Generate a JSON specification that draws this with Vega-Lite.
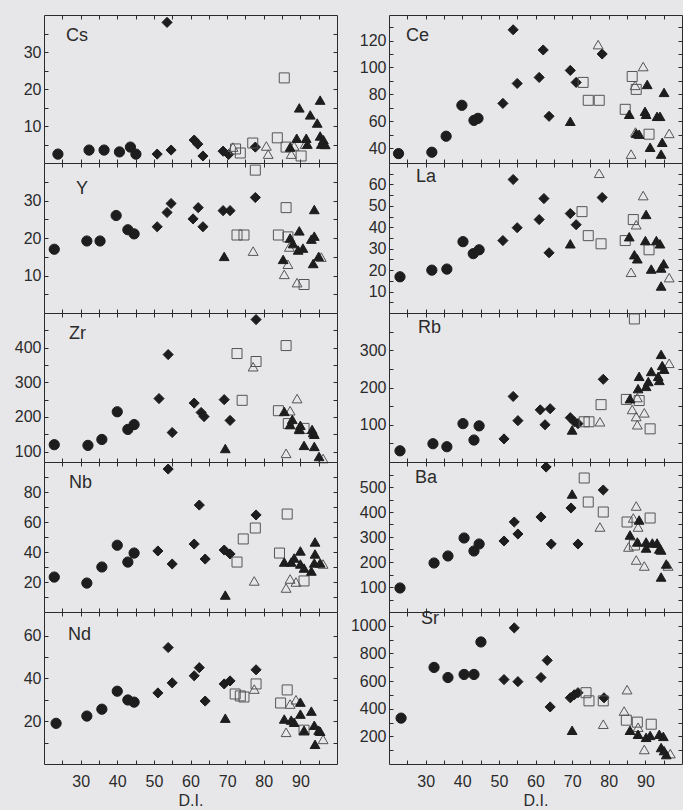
{
"$schema":"https://vega.github.io/schema/vega-lite/v6.json",
"background":"#e7e7ea",
"padding":{"left":13,"top":14,"right":0,"bottom":2},
"datasets":{"d":[
{"el":"Cs","di":23.8,"v":2.4,"g":"c"},{"el":"Cs","di":32.3,"v":3.5,"g":"c"},{"el":"Cs","di":36.4,"v":3.5,"g":"c"},{"el":"Cs","di":40.6,"v":3.0,"g":"c"},{"el":"Cs","di":43.6,"v":4.3,"g":"c"},{"el":"Cs","di":45.1,"v":2.4,"g":"c"},
{"el":"Cs","di":50.9,"v":2.4,"g":"d"},{"el":"Cs","di":53.6,"v":38,"g":"d"},{"el":"Cs","di":54.7,"v":3.5,"g":"d"},{"el":"Cs","di":61,"v":6.2,"g":"d"},{"el":"Cs","di":62,"v":5.1,"g":"d"},{"el":"Cs","di":63.4,"v":1.9,"g":"d"},{"el":"Cs","di":68.9,"v":3.2,"g":"d"},{"el":"Cs","di":70.4,"v":2.3,"g":"d"},{"el":"Cs","di":77.7,"v":4.3,"g":"d"},
{"el":"Cs","di":72.3,"v":3.8,"g":"s"},{"el":"Cs","di":73.6,"v":2.7,"g":"s"},{"el":"Cs","di":77,"v":5.4,"g":"s"},{"el":"Cs","di":83.7,"v":6.8,"g":"s"},{"el":"Cs","di":85.6,"v":23,"g":"s"},{"el":"Cs","di":86.1,"v":4.3,"g":"s"},{"el":"Cs","di":90.2,"v":1.9,"g":"s"},
{"el":"Cs","di":71.6,"v":4.3,"g":"o"},{"el":"Cs","di":80.7,"v":4.6,"g":"o"},{"el":"Cs","di":81.2,"v":2.4,"g":"o"},{"el":"Cs","di":87.5,"v":2.4,"g":"o"},{"el":"Cs","di":88.3,"v":4.6,"g":"o"},{"el":"Cs","di":91.3,"v":5.1,"g":"o"},
{"el":"Cs","di":87.2,"v":4.3,"g":"f"},{"el":"Cs","di":89,"v":6.7,"g":"f"},{"el":"Cs","di":89.7,"v":14.9,"g":"f"},{"el":"Cs","di":91.6,"v":6.7,"g":"f"},{"el":"Cs","di":91.9,"v":5.1,"g":"f"},{"el":"Cs","di":92.7,"v":13,"g":"f"},{"el":"Cs","di":94.6,"v":10.8,"g":"f"},{"el":"Cs","di":95.4,"v":17,"g":"f"},{"el":"Cs","di":95.4,"v":7.3,"g":"f"},{"el":"Cs","di":95.7,"v":5.1,"g":"f"},{"el":"Cs","di":96.3,"v":6.3,"g":"f"},{"el":"Cs","di":96.8,"v":5,"g":"f"},

{"el":"Y","di":22.8,"v":17,"g":"c"},{"el":"Y","di":31.7,"v":19.2,"g":"c"},{"el":"Y","di":35.3,"v":19.2,"g":"c"},{"el":"Y","di":39.7,"v":26,"g":"c"},{"el":"Y","di":42.9,"v":22.2,"g":"c"},{"el":"Y","di":44.6,"v":21.1,"g":"c"},
{"el":"Y","di":50.9,"v":23,"g":"d"},{"el":"Y","di":53.6,"v":26.8,"g":"d"},{"el":"Y","di":54.7,"v":29.2,"g":"d"},{"el":"Y","di":60.7,"v":25.1,"g":"d"},{"el":"Y","di":62.1,"v":28.1,"g":"d"},{"el":"Y","di":63.4,"v":23,"g":"d"},{"el":"Y","di":68.9,"v":27.3,"g":"d"},{"el":"Y","di":70.8,"v":27.3,"g":"d"},{"el":"Y","di":77.7,"v":30.8,"g":"d"},
{"el":"Y","di":72.7,"v":20.8,"g":"s"},{"el":"Y","di":74.6,"v":20.8,"g":"s"},{"el":"Y","di":77.7,"v":38.1,"g":"s"},{"el":"Y","di":84,"v":20.8,"g":"s"},{"el":"Y","di":86.1,"v":28.1,"g":"s"},{"el":"Y","di":86.6,"v":20.3,"g":"s"},{"el":"Y","di":91,"v":7.6,"g":"s"},
{"el":"Y","di":77.1,"v":16.5,"g":"o"},{"el":"Y","di":85.6,"v":10.3,"g":"o"},{"el":"Y","di":86.6,"v":13,"g":"o"},{"el":"Y","di":87,"v":17.6,"g":"o"},{"el":"Y","di":89.1,"v":8.1,"g":"o"},{"el":"Y","di":95.7,"v":14.9,"g":"o"},
{"el":"Y","di":69.2,"v":15.1,"g":"f"},{"el":"Y","di":85.3,"v":14.3,"g":"f"},{"el":"Y","di":87.2,"v":20,"g":"f"},{"el":"Y","di":88,"v":18.5,"g":"f"},{"el":"Y","di":89.4,"v":16.8,"g":"f"},{"el":"Y","di":89.7,"v":21.9,"g":"f"},{"el":"Y","di":90.7,"v":17.3,"g":"f"},{"el":"Y","di":93,"v":19.7,"g":"f"},{"el":"Y","di":93.5,"v":13.2,"g":"f"},{"el":"Y","di":93.8,"v":20.5,"g":"f"},{"el":"Y","di":93.8,"v":27.6,"g":"f"},{"el":"Y","di":95,"v":15.1,"g":"f"},

{"el":"Zr","di":22.8,"v":120,"g":"c"},{"el":"Zr","di":32,"v":118,"g":"c"},{"el":"Zr","di":35.8,"v":135,"g":"c"},{"el":"Zr","di":40,"v":215,"g":"c"},{"el":"Zr","di":42.9,"v":164,"g":"c"},{"el":"Zr","di":44.6,"v":178,"g":"c"},
{"el":"Zr","di":51.4,"v":253,"g":"d"},{"el":"Zr","di":53.9,"v":380,"g":"d"},{"el":"Zr","di":55,"v":155,"g":"d"},{"el":"Zr","di":61,"v":240,"g":"d"},{"el":"Zr","di":62.9,"v":213,"g":"d"},{"el":"Zr","di":63.7,"v":201,"g":"d"},{"el":"Zr","di":69.2,"v":250,"g":"d"},{"el":"Zr","di":70.8,"v":190,"g":"d"},{"el":"Zr","di":77.9,"v":481,"g":"d"},
{"el":"Zr","di":72.7,"v":383,"g":"s"},{"el":"Zr","di":74.1,"v":248,"g":"s"},{"el":"Zr","di":77.9,"v":360,"g":"s"},{"el":"Zr","di":84,"v":218,"g":"s"},{"el":"Zr","di":86.1,"v":406,"g":"s"},{"el":"Zr","di":86.7,"v":181,"g":"s"},{"el":"Zr","di":91,"v":167,"g":"s"},
{"el":"Zr","di":77.1,"v":345,"g":"o"},{"el":"Zr","di":86.1,"v":95,"g":"o"},{"el":"Zr","di":87.2,"v":218,"g":"o"},{"el":"Zr","di":89.1,"v":253,"g":"o"},{"el":"Zr","di":89.7,"v":167,"g":"o"},{"el":"Zr","di":96.2,"v":80,"g":"o"},
{"el":"Zr","di":69.5,"v":109,"g":"f"},{"el":"Zr","di":85.6,"v":216,"g":"f"},{"el":"Zr","di":87.2,"v":178,"g":"f"},{"el":"Zr","di":87.8,"v":193,"g":"f"},{"el":"Zr","di":89.7,"v":164,"g":"f"},{"el":"Zr","di":90,"v":176,"g":"f"},{"el":"Zr","di":91,"v":118,"g":"f"},{"el":"Zr","di":93.2,"v":164,"g":"f"},{"el":"Zr","di":93.5,"v":155,"g":"f"},{"el":"Zr","di":93.8,"v":150,"g":"f"},{"el":"Zr","di":93.8,"v":115,"g":"f"},{"el":"Zr","di":95.1,"v":86,"g":"f"},

{"el":"Nb","di":22.8,"v":23.3,"g":"c"},{"el":"Nb","di":31.7,"v":19.3,"g":"c"},{"el":"Nb","di":35.8,"v":30,"g":"c"},{"el":"Nb","di":40,"v":44.5,"g":"c"},{"el":"Nb","di":42.9,"v":33.3,"g":"c"},{"el":"Nb","di":44.6,"v":39.3,"g":"c"},
{"el":"Nb","di":51.1,"v":40.7,"g":"d"},{"el":"Nb","di":53.9,"v":95.3,"g":"d"},{"el":"Nb","di":55,"v":32,"g":"d"},{"el":"Nb","di":61,"v":45.3,"g":"d"},{"el":"Nb","di":62.4,"v":71.3,"g":"d"},{"el":"Nb","di":64,"v":35.3,"g":"d"},{"el":"Nb","di":69.2,"v":41.3,"g":"d"},{"el":"Nb","di":70.8,"v":38.7,"g":"d"},{"el":"Nb","di":77.9,"v":64.7,"g":"d"},
{"el":"Nb","di":72.7,"v":33.3,"g":"s"},{"el":"Nb","di":74.4,"v":48.7,"g":"s"},{"el":"Nb","di":77.7,"v":56,"g":"s"},{"el":"Nb","di":84.3,"v":39.3,"g":"s"},{"el":"Nb","di":86.4,"v":65.3,"g":"s"},{"el":"Nb","di":91,"v":20.7,"g":"s"},
{"el":"Nb","di":77.4,"v":20.7,"g":"o"},{"el":"Nb","di":86.1,"v":16,"g":"o"},{"el":"Nb","di":87.2,"v":22,"g":"o"},{"el":"Nb","di":88.8,"v":20,"g":"o"},{"el":"Nb","di":96.2,"v":32,"g":"o"},
{"el":"Nb","di":69.5,"v":11.3,"g":"f"},{"el":"Nb","di":85.6,"v":33.3,"g":"f"},{"el":"Nb","di":87.5,"v":33.3,"g":"f"},{"el":"Nb","di":88.3,"v":36,"g":"f"},{"el":"Nb","di":90,"v":40.7,"g":"f"},{"el":"Nb","di":90,"v":32,"g":"f"},{"el":"Nb","di":91,"v":29.3,"g":"f"},{"el":"Nb","di":93,"v":27.3,"g":"f"},{"el":"Nb","di":93.8,"v":32.7,"g":"f"},{"el":"Nb","di":94,"v":38.7,"g":"f"},{"el":"Nb","di":94,"v":46.7,"g":"f"},{"el":"Nb","di":95.4,"v":32.7,"g":"f"},

{"el":"Nd","di":23.3,"v":19,"g":"c"},{"el":"Nd","di":31.7,"v":22.4,"g":"c"},{"el":"Nd","di":35.8,"v":25.6,"g":"c"},{"el":"Nd","di":40,"v":34,"g":"c"},{"el":"Nd","di":42.9,"v":29.9,"g":"c"},{"el":"Nd","di":44.6,"v":28.9,"g":"c"},
{"el":"Nd","di":51.1,"v":33.2,"g":"d"},{"el":"Nd","di":53.9,"v":54.4,"g":"d"},{"el":"Nd","di":55,"v":37.9,"g":"d"},{"el":"Nd","di":61,"v":41.2,"g":"d"},{"el":"Nd","di":62.4,"v":45,"g":"d"},{"el":"Nd","di":64,"v":29.4,"g":"d"},{"el":"Nd","di":69.2,"v":37.4,"g":"d"},{"el":"Nd","di":70.8,"v":38.8,"g":"d"},{"el":"Nd","di":77.9,"v":44,"g":"d"},
{"el":"Nd","di":72.2,"v":32.7,"g":"s"},{"el":"Nd","di":73.6,"v":31.8,"g":"s"},{"el":"Nd","di":74.6,"v":31.3,"g":"s"},{"el":"Nd","di":77.9,"v":37.4,"g":"s"},{"el":"Nd","di":84.6,"v":28.5,"g":"s"},{"el":"Nd","di":86.4,"v":34.6,"g":"s"},{"el":"Nd","di":91,"v":15.8,"g":"s"},
{"el":"Nd","di":77.4,"v":35,"g":"o"},{"el":"Nd","di":86.1,"v":14.8,"g":"o"},{"el":"Nd","di":87.2,"v":28,"g":"o"},{"el":"Nd","di":88.8,"v":30,"g":"o"},{"el":"Nd","di":96.2,"v":11.5,"g":"o"},
{"el":"Nd","di":69.5,"v":21.4,"g":"f"},{"el":"Nd","di":85.6,"v":21,"g":"f"},{"el":"Nd","di":87.5,"v":20.5,"g":"f"},{"el":"Nd","di":88.3,"v":19.5,"g":"f"},{"el":"Nd","di":90,"v":28.9,"g":"f"},{"el":"Nd","di":90,"v":23.3,"g":"f"},{"el":"Nd","di":91,"v":15.8,"g":"f"},{"el":"Nd","di":93,"v":24.7,"g":"f"},{"el":"Nd","di":93.8,"v":18.1,"g":"f"},{"el":"Nd","di":94,"v":9.2,"g":"f"},{"el":"Nd","di":95,"v":15.8,"g":"f"},{"el":"Nd","di":95.4,"v":15.3,"g":"f"},

{"el":"Ce","di":22.6,"v":36,"g":"c"},{"el":"Ce","di":31.7,"v":37,"g":"c"},{"el":"Ce","di":35.6,"v":48.9,"g":"c"},{"el":"Ce","di":39.9,"v":71.9,"g":"c"},{"el":"Ce","di":43.2,"v":60.7,"g":"c"},{"el":"Ce","di":44.3,"v":62.2,"g":"c"},
{"el":"Ce","di":51.1,"v":73.3,"g":"d"},{"el":"Ce","di":53.9,"v":128,"g":"d"},{"el":"Ce","di":55,"v":88.1,"g":"d"},{"el":"Ce","di":61,"v":92.6,"g":"d"},{"el":"Ce","di":62.1,"v":113,"g":"d"},{"el":"Ce","di":63.7,"v":63.7,"g":"d"},{"el":"Ce","di":69.5,"v":97.8,"g":"d"},{"el":"Ce","di":71.1,"v":88.9,"g":"d"},{"el":"Ce","di":78.2,"v":110,"g":"d"},
{"el":"Ce","di":73,"v":88.9,"g":"s"},{"el":"Ce","di":74.4,"v":75.6,"g":"s"},{"el":"Ce","di":77.4,"v":75.6,"g":"s"},{"el":"Ce","di":84.5,"v":68.9,"g":"s"},{"el":"Ce","di":86.4,"v":93.3,"g":"s"},{"el":"Ce","di":87.5,"v":83.7,"g":"s"},{"el":"Ce","di":91,"v":50.4,"g":"s"},
{"el":"Ce","di":77.1,"v":117,"g":"o"},{"el":"Ce","di":86.1,"v":35.6,"g":"o"},{"el":"Ce","di":87.2,"v":86.7,"g":"o"},{"el":"Ce","di":87.3,"v":52,"g":"o"},{"el":"Ce","di":89.4,"v":100.7,"g":"o"},{"el":"Ce","di":96.5,"v":51,"g":"o"},
{"el":"Ce","di":69.5,"v":60,"g":"f"},{"el":"Ce","di":85.6,"v":65.2,"g":"f"},{"el":"Ce","di":87.5,"v":51,"g":"f"},{"el":"Ce","di":88.3,"v":50.4,"g":"f"},{"el":"Ce","di":89.9,"v":67.4,"g":"f"},{"el":"Ce","di":90.2,"v":65.2,"g":"f"},{"el":"Ce","di":90.5,"v":87.4,"g":"f"},{"el":"Ce","di":91.3,"v":40.7,"g":"f"},{"el":"Ce","di":93.2,"v":63.7,"g":"f"},{"el":"Ce","di":94,"v":63.7,"g":"f"},{"el":"Ce","di":94.3,"v":35.6,"g":"f"},{"el":"Ce","di":94.6,"v":44.4,"g":"f"},{"el":"Ce","di":95.1,"v":81.5,"g":"f"},

{"el":"La","di":23,"v":16.9,"g":"c"},{"el":"La","di":31.7,"v":20,"g":"c"},{"el":"La","di":35.8,"v":20.5,"g":"c"},{"el":"La","di":40.2,"v":33.3,"g":"c"},{"el":"La","di":43,"v":27.7,"g":"c"},{"el":"La","di":44.6,"v":29.5,"g":"c"},
{"el":"La","di":51.1,"v":33.8,"g":"d"},{"el":"La","di":53.9,"v":62.3,"g":"d"},{"el":"La","di":55,"v":39.8,"g":"d"},{"el":"La","di":61,"v":43.6,"g":"d"},{"el":"La","di":62.3,"v":53.4,"g":"d"},{"el":"La","di":63.7,"v":28.1,"g":"d"},{"el":"La","di":69.5,"v":46.4,"g":"d"},{"el":"La","di":71.1,"v":41.2,"g":"d"},{"el":"La","di":78.2,"v":53.9,"g":"d"},
{"el":"La","di":72.7,"v":47.3,"g":"s"},{"el":"La","di":74.4,"v":36.1,"g":"s"},{"el":"La","di":77.9,"v":32.3,"g":"s"},{"el":"La","di":84.5,"v":33.8,"g":"s"},{"el":"La","di":86.7,"v":43.6,"g":"s"},{"el":"La","di":91,"v":29.5,"g":"s"},
{"el":"La","di":77.4,"v":65.2,"g":"o"},{"el":"La","di":86.1,"v":19,"g":"o"},{"el":"La","di":87.5,"v":41.2,"g":"o"},{"el":"La","di":89.4,"v":54.8,"g":"o"},{"el":"La","di":96.5,"v":16.5,"g":"o"},
{"el":"La","di":69.5,"v":32.3,"g":"f"},{"el":"La","di":85.6,"v":35.6,"g":"f"},{"el":"La","di":87,"v":27.2,"g":"f"},{"el":"La","di":87.8,"v":25.3,"g":"f"},{"el":"La","di":90,"v":33.8,"g":"f"},{"el":"La","di":90.2,"v":46,"g":"f"},{"el":"La","di":91.6,"v":20.5,"g":"f"},{"el":"La","di":93,"v":33.8,"g":"f"},{"el":"La","di":94,"v":32.3,"g":"f"},{"el":"La","di":94.3,"v":21,"g":"f"},{"el":"La","di":94.3,"v":12.6,"g":"f"},{"el":"La","di":95,"v":23,"g":"f"},

{"el":"Rb","di":23,"v":30,"g":"c"},{"el":"Rb","di":32,"v":49,"g":"c"},{"el":"Rb","di":35.8,"v":41,"g":"c"},{"el":"Rb","di":40.2,"v":103,"g":"c"},{"el":"Rb","di":43.2,"v":59,"g":"c"},{"el":"Rb","di":44.6,"v":97,"g":"c"},
{"el":"Rb","di":51.4,"v":62,"g":"d"},{"el":"Rb","di":53.9,"v":176,"g":"d"},{"el":"Rb","di":55.2,"v":111,"g":"d"},{"el":"Rb","di":61.3,"v":140,"g":"d"},{"el":"Rb","di":62.6,"v":100,"g":"d"},{"el":"Rb","di":64,"v":143,"g":"d"},{"el":"Rb","di":69.5,"v":119,"g":"d"},{"el":"Rb","di":70.6,"v":108,"g":"d"},{"el":"Rb","di":71.6,"v":103,"g":"d"},{"el":"Rb","di":78.5,"v":222,"g":"d"},
{"el":"Rb","di":73.3,"v":108,"g":"s"},{"el":"Rb","di":74.6,"v":108,"g":"s"},{"el":"Rb","di":77.9,"v":154,"g":"s"},{"el":"Rb","di":84.8,"v":168,"g":"s"},{"el":"Rb","di":87,"v":384,"g":"s"},{"el":"Rb","di":88.3,"v":165,"g":"s"},{"el":"Rb","di":91.3,"v":89,"g":"s"},
{"el":"Rb","di":77.6,"v":108,"g":"o"},{"el":"Rb","di":86.4,"v":141,"g":"o"},{"el":"Rb","di":87.5,"v":122,"g":"o"},{"el":"Rb","di":87.8,"v":100,"g":"o"},{"el":"Rb","di":87.8,"v":173,"g":"o"},{"el":"Rb","di":89.7,"v":132,"g":"o"},{"el":"Rb","di":96.5,"v":265,"g":"o"},
{"el":"Rb","di":70,"v":86,"g":"f"},{"el":"Rb","di":85.8,"v":170,"g":"f"},{"el":"Rb","di":88,"v":197,"g":"f"},{"el":"Rb","di":88.3,"v":230,"g":"f"},{"el":"Rb","di":90.2,"v":203,"g":"f"},{"el":"Rb","di":90.8,"v":216,"g":"f"},{"el":"Rb","di":91.6,"v":243,"g":"f"},{"el":"Rb","di":93.5,"v":230,"g":"f"},{"el":"Rb","di":93.8,"v":219,"g":"f"},{"el":"Rb","di":94.3,"v":289,"g":"f"},{"el":"Rb","di":94.6,"v":259,"g":"f"},{"el":"Rb","di":95.1,"v":249,"g":"f"},

{"el":"Ba","di":23,"v":96,"g":"c"},{"el":"Ba","di":32.3,"v":196,"g":"c"},{"el":"Ba","di":36.1,"v":224,"g":"c"},{"el":"Ba","di":40.5,"v":296,"g":"c"},{"el":"Ba","di":43.2,"v":244,"g":"c"},{"el":"Ba","di":44.6,"v":272,"g":"c"},
{"el":"Ba","di":51.4,"v":284,"g":"d"},{"el":"Ba","di":54.2,"v":360,"g":"d"},{"el":"Ba","di":55.2,"v":312,"g":"d"},{"el":"Ba","di":61.5,"v":380,"g":"d"},{"el":"Ba","di":62.9,"v":580,"g":"d"},{"el":"Ba","di":64.3,"v":272,"g":"d"},{"el":"Ba","di":69.7,"v":416,"g":"d"},{"el":"Ba","di":71.6,"v":272,"g":"d"},{"el":"Ba","di":78.5,"v":488,"g":"d"},
{"el":"Ba","di":73.3,"v":536,"g":"s"},{"el":"Ba","di":74.4,"v":440,"g":"s"},{"el":"Ba","di":78.5,"v":400,"g":"s"},{"el":"Ba","di":85,"v":360,"g":"s"},{"el":"Ba","di":87,"v":268,"g":"s"},{"el":"Ba","di":91.3,"v":376,"g":"s"},
{"el":"Ba","di":77.6,"v":340,"g":"o"},{"el":"Ba","di":85.4,"v":260,"g":"o"},{"el":"Ba","di":86.7,"v":376,"g":"o"},{"el":"Ba","di":87.5,"v":424,"g":"o"},{"el":"Ba","di":87.5,"v":208,"g":"o"},{"el":"Ba","di":88,"v":340,"g":"o"},{"el":"Ba","di":89.7,"v":184,"g":"o"},{"el":"Ba","di":96.2,"v":184,"g":"o"},
{"el":"Ba","di":70,"v":472,"g":"f"},{"el":"Ba","di":85.8,"v":308,"g":"f"},{"el":"Ba","di":87.8,"v":280,"g":"f"},{"el":"Ba","di":88.3,"v":368,"g":"f"},{"el":"Ba","di":90.2,"v":280,"g":"f"},{"el":"Ba","di":90.2,"v":256,"g":"f"},{"el":"Ba","di":91.9,"v":276,"g":"f"},{"el":"Ba","di":93.2,"v":276,"g":"f"},{"el":"Ba","di":93.8,"v":252,"g":"f"},{"el":"Ba","di":94.3,"v":248,"g":"f"},{"el":"Ba","di":94.3,"v":140,"g":"f"},{"el":"Ba","di":95.7,"v":192,"g":"f"},

{"el":"Sr","di":23.3,"v":332,"g":"c"},{"el":"Sr","di":32.3,"v":699,"g":"c"},{"el":"Sr","di":36.1,"v":626,"g":"c"},{"el":"Sr","di":40.5,"v":648,"g":"c"},{"el":"Sr","di":43.2,"v":648,"g":"c"},{"el":"Sr","di":45.1,"v":883,"g":"c"},
{"el":"Sr","di":51.4,"v":611,"g":"d"},{"el":"Sr","di":54.2,"v":985,"g":"d"},{"el":"Sr","di":55.2,"v":596,"g":"d"},{"el":"Sr","di":61.5,"v":626,"g":"d"},{"el":"Sr","di":63.2,"v":750,"g":"d"},{"el":"Sr","di":64,"v":413,"g":"d"},{"el":"Sr","di":69.5,"v":479,"g":"d"},{"el":"Sr","di":70.6,"v":501,"g":"d"},{"el":"Sr","di":71.6,"v":516,"g":"d"},{"el":"Sr","di":78.7,"v":479,"g":"d"},
{"el":"Sr","di":73.8,"v":516,"g":"s"},{"el":"Sr","di":74.6,"v":457,"g":"s"},{"el":"Sr","di":78.5,"v":457,"g":"s"},{"el":"Sr","di":84.8,"v":317,"g":"s"},{"el":"Sr","di":87.8,"v":303,"g":"s"},{"el":"Sr","di":91.6,"v":288,"g":"s"},
{"el":"Sr","di":78.5,"v":288,"g":"o"},{"el":"Sr","di":84.2,"v":383,"g":"o"},{"el":"Sr","di":85,"v":538,"g":"o"},{"el":"Sr","di":88,"v":266,"g":"o"},{"el":"Sr","di":89.7,"v":105,"g":"o"},{"el":"Sr","di":96.8,"v":75,"g":"o"},
{"el":"Sr","di":70,"v":244,"g":"f"},{"el":"Sr","di":85.8,"v":244,"g":"f"},{"el":"Sr","di":88,"v":215,"g":"f"},{"el":"Sr","di":90.2,"v":193,"g":"f"},{"el":"Sr","di":91.3,"v":207,"g":"f"},{"el":"Sr","di":93.8,"v":215,"g":"f"},{"el":"Sr","di":94.3,"v":119,"g":"f"},{"el":"Sr","di":94.9,"v":200,"g":"f"},{"el":"Sr","di":95.1,"v":97,"g":"f"},{"el":"Sr","di":95.7,"v":68,"g":"f"}
]},
"data":{"name":"d"},
"columns":2,
"spacing":{"row":0,"column":52},
"bounds":"flush",
"concat":[
{"width":293,"height":148,"title":{"text":"Cs","dx":22,"dy":34},"transform":[{"filter":"datum.el==='Cs'"}],
 "layer":[
  {"mark":{"type":"point","filled":true,"opacity":1,"strokeWidth":1},
   "encoding":{"x":{"field":"di","type":"quantitative","scale":{"domain":[20,100],"nice":false,"zero":false},"axis":{"values":[25,30,35,40,45,50,55,60,65,70,75,80,85,90,95],"labels":false,"title":null}},
    "y":{"field":"v","type":"quantitative","scale":{"domain":[0,40],"nice":false,"zero":false},"axis":{"values":[5,10,15,20,25,30,35],"format":"d","labelExpr":"datum.value%10===0?datum.label:''","title":null}},
    "shape":{"field":"g","type":"nominal","scale":{"domain":["c","d","s","o","f"],"range":["circle","diamond","square","triangle-up","triangle-up"]},"legend":null},
    "fill":{"field":"g","type":"nominal","scale":{"domain":["c","d","s","o","f"],"range":["#1d1d1d","#1d1d1d","transparent","transparent","#1d1d1d"]},"legend":null},
    "stroke":{"field":"g","type":"nominal","scale":{"domain":["c","d","s","o","f"],"range":["#1d1d1d","#1d1d1d","#555555","#555555","#1d1d1d"]},"legend":null},
    "size":{"field":"g","type":"nominal","scale":{"domain":["c","d","s","o","f"],"range":[105,95,85,65,65]},"legend":null}}},
  {"mark":{"type":"point","opacity":0},
   "encoding":{"x":{"field":"di","type":"quantitative","axis":{"orient":"top","values":[25,30,35,40,45,50,55,60,65,70,75,80,85,90,95],"labels":false,"title":null}},
    "y":{"field":"v","type":"quantitative","axis":{"orient":"right","values":[5,10,15,20,25,30,35],"labels":false,"title":null}}}}],
 "resolve":{"axis":{"x":"independent","y":"independent"}}},
{"width":293,"height":148,"title":{"text":"Ce","dx":17,"dy":34},"transform":[{"filter":"datum.el==='Ce'"}],
 "layer":[
  {"mark":{"type":"point","filled":true,"opacity":1,"strokeWidth":1},
   "encoding":{"x":{"field":"di","type":"quantitative","scale":{"domain":[20,100],"nice":false,"zero":false},"axis":{"values":[25,30,35,40,45,50,55,60,65,70,75,80,85,90,95],"labels":false,"title":null}},
    "y":{"field":"v","type":"quantitative","scale":{"domain":[29,139],"nice":false,"zero":false},"axis":{"values":[40,50,60,70,80,90,100,110,120,130],"format":"d","labelExpr":"datum.value%20===0?datum.label:''","title":null}},
    "shape":{"field":"g","type":"nominal","scale":{"domain":["c","d","s","o","f"],"range":["circle","diamond","square","triangle-up","triangle-up"]},"legend":null},
    "fill":{"field":"g","type":"nominal","scale":{"domain":["c","d","s","o","f"],"range":["#1d1d1d","#1d1d1d","transparent","transparent","#1d1d1d"]},"legend":null},
    "stroke":{"field":"g","type":"nominal","scale":{"domain":["c","d","s","o","f"],"range":["#1d1d1d","#1d1d1d","#555555","#555555","#1d1d1d"]},"legend":null},
    "size":{"field":"g","type":"nominal","scale":{"domain":["c","d","s","o","f"],"range":[105,95,85,65,65]},"legend":null}}},
  {"mark":{"type":"point","opacity":0},
   "encoding":{"x":{"field":"di","type":"quantitative","axis":{"orient":"top","values":[25,30,35,40,45,50,55,60,65,70,75,80,85,90,95],"labels":false,"title":null}},
    "y":{"field":"v","type":"quantitative","axis":{"orient":"right","values":[40,50,60,70,80,90,100,110,120,130],"labels":false,"title":null}}}}],
 "resolve":{"axis":{"x":"independent","y":"independent"}}},
{"width":293,"height":150,"title":{"text":"Y","dx":32,"dy":39},"transform":[{"filter":"datum.el==='Y'"}],
 "layer":[
  {"mark":{"type":"point","filled":true,"opacity":1,"strokeWidth":1},
   "encoding":{"x":{"field":"di","type":"quantitative","scale":{"domain":[20,100],"nice":false,"zero":false},"axis":{"values":[25,30,35,40,45,50,55,60,65,70,75,80,85,90,95],"labels":false,"title":null}},
    "y":{"field":"v","type":"quantitative","scale":{"domain":[0,40],"nice":false,"zero":false},"axis":{"values":[5,10,15,20,25,30,35],"format":"d","labelExpr":"datum.value%10===0?datum.label:''","title":null}},
    "shape":{"field":"g","type":"nominal","scale":{"domain":["c","d","s","o","f"],"range":["circle","diamond","square","triangle-up","triangle-up"]},"legend":null},
    "fill":{"field":"g","type":"nominal","scale":{"domain":["c","d","s","o","f"],"range":["#1d1d1d","#1d1d1d","transparent","transparent","#1d1d1d"]},"legend":null},
    "stroke":{"field":"g","type":"nominal","scale":{"domain":["c","d","s","o","f"],"range":["#1d1d1d","#1d1d1d","#555555","#555555","#1d1d1d"]},"legend":null},
    "size":{"field":"g","type":"nominal","scale":{"domain":["c","d","s","o","f"],"range":[105,95,85,65,65]},"legend":null}}},
  {"mark":{"type":"point","opacity":0},
   "encoding":{"x":{"field":"di","type":"quantitative","axis":{"orient":"top","values":[25,30,35,40,45,50,55,60,65,70,75,80,85,90,95],"labels":false,"title":null}},
    "y":{"field":"v","type":"quantitative","axis":{"orient":"right","values":[5,10,15,20,25,30,35],"labels":false,"title":null}}}}],
 "resolve":{"axis":{"x":"independent","y":"independent"}}},
{"width":293,"height":150,"title":{"text":"La","dx":27,"dy":27},"transform":[{"filter":"datum.el==='La'"}],
 "layer":[
  {"mark":{"type":"point","filled":true,"opacity":1,"strokeWidth":1},
   "encoding":{"x":{"field":"di","type":"quantitative","scale":{"domain":[20,100],"nice":false,"zero":false},"axis":{"values":[25,30,35,40,45,50,55,60,65,70,75,80,85,90,95],"labels":false,"title":null}},
    "y":{"field":"v","type":"quantitative","scale":{"domain":[0,70],"nice":false,"zero":false},"axis":{"values":[5,10,15,20,25,30,35,40,45,50,55,60,65],"format":"d","labelExpr":"datum.value%10===0?datum.label:''","title":null}},
    "shape":{"field":"g","type":"nominal","scale":{"domain":["c","d","s","o","f"],"range":["circle","diamond","square","triangle-up","triangle-up"]},"legend":null},
    "fill":{"field":"g","type":"nominal","scale":{"domain":["c","d","s","o","f"],"range":["#1d1d1d","#1d1d1d","transparent","transparent","#1d1d1d"]},"legend":null},
    "stroke":{"field":"g","type":"nominal","scale":{"domain":["c","d","s","o","f"],"range":["#1d1d1d","#1d1d1d","#555555","#555555","#1d1d1d"]},"legend":null},
    "size":{"field":"g","type":"nominal","scale":{"domain":["c","d","s","o","f"],"range":[105,95,85,65,65]},"legend":null}}},
  {"mark":{"type":"point","opacity":0},
   "encoding":{"x":{"field":"di","type":"quantitative","axis":{"orient":"top","values":[25,30,35,40,45,50,55,60,65,70,75,80,85,90,95],"labels":false,"title":null}},
    "y":{"field":"v","type":"quantitative","axis":{"orient":"right","values":[5,10,15,20,25,30,35,40,45,50,55,60,65],"labels":false,"title":null}}}}],
 "resolve":{"axis":{"x":"independent","y":"independent"}}},
{"width":293,"height":149,"title":{"text":"Zr","dx":25,"dy":34},"transform":[{"filter":"datum.el==='Zr'"}],
 "layer":[
  {"mark":{"type":"point","filled":true,"opacity":1,"strokeWidth":1},
   "encoding":{"x":{"field":"di","type":"quantitative","scale":{"domain":[20,100],"nice":false,"zero":false},"axis":{"values":[25,30,35,40,45,50,55,60,65,70,75,80,85,90,95],"labels":false,"title":null}},
    "y":{"field":"v","type":"quantitative","scale":{"domain":[70,500],"nice":false,"zero":false},"axis":{"values":[100,150,200,250,300,350,400,450],"format":"d","labelExpr":"datum.value%100===0?datum.label:''","title":null}},
    "shape":{"field":"g","type":"nominal","scale":{"domain":["c","d","s","o","f"],"range":["circle","diamond","square","triangle-up","triangle-up"]},"legend":null},
    "fill":{"field":"g","type":"nominal","scale":{"domain":["c","d","s","o","f"],"range":["#1d1d1d","#1d1d1d","transparent","transparent","#1d1d1d"]},"legend":null},
    "stroke":{"field":"g","type":"nominal","scale":{"domain":["c","d","s","o","f"],"range":["#1d1d1d","#1d1d1d","#555555","#555555","#1d1d1d"]},"legend":null},
    "size":{"field":"g","type":"nominal","scale":{"domain":["c","d","s","o","f"],"range":[105,95,85,65,65]},"legend":null}}},
  {"mark":{"type":"point","opacity":0},
   "encoding":{"x":{"field":"di","type":"quantitative","axis":{"orient":"top","values":[25,30,35,40,45,50,55,60,65,70,75,80,85,90,95],"labels":false,"title":null}},
    "y":{"field":"v","type":"quantitative","axis":{"orient":"right","values":[100,150,200,250,300,350,400,450],"labels":false,"title":null}}}}],
 "resolve":{"axis":{"x":"independent","y":"independent"}}},
{"width":293,"height":149,"title":{"text":"Rb","dx":29,"dy":29},"transform":[{"filter":"datum.el==='Rb'"}],
 "layer":[
  {"mark":{"type":"point","filled":true,"opacity":1,"strokeWidth":1},
   "encoding":{"x":{"field":"di","type":"quantitative","scale":{"domain":[20,100],"nice":false,"zero":false},"axis":{"values":[25,30,35,40,45,50,55,60,65,70,75,80,85,90,95],"labels":false,"title":null}},
    "y":{"field":"v","type":"quantitative","scale":{"domain":[0,400],"nice":false,"zero":false},"axis":{"values":[50,100,150,200,250,300,350],"format":"d","labelExpr":"datum.value%100===0?datum.label:''","title":null}},
    "shape":{"field":"g","type":"nominal","scale":{"domain":["c","d","s","o","f"],"range":["circle","diamond","square","triangle-up","triangle-up"]},"legend":null},
    "fill":{"field":"g","type":"nominal","scale":{"domain":["c","d","s","o","f"],"range":["#1d1d1d","#1d1d1d","transparent","transparent","#1d1d1d"]},"legend":null},
    "stroke":{"field":"g","type":"nominal","scale":{"domain":["c","d","s","o","f"],"range":["#1d1d1d","#1d1d1d","#555555","#555555","#1d1d1d"]},"legend":null},
    "size":{"field":"g","type":"nominal","scale":{"domain":["c","d","s","o","f"],"range":[105,95,85,65,65]},"legend":null}}},
  {"mark":{"type":"point","opacity":0},
   "encoding":{"x":{"field":"di","type":"quantitative","axis":{"orient":"top","values":[25,30,35,40,45,50,55,60,65,70,75,80,85,90,95],"labels":false,"title":null}},
    "y":{"field":"v","type":"quantitative","axis":{"orient":"right","values":[50,100,150,200,250,300,350],"labels":false,"title":null}}}}],
 "resolve":{"axis":{"x":"independent","y":"independent"}}},
{"width":293,"height":150,"title":{"text":"Nb","dx":25,"dy":34},"transform":[{"filter":"datum.el==='Nb'"}],
 "layer":[
  {"mark":{"type":"point","filled":true,"opacity":1,"strokeWidth":1},
   "encoding":{"x":{"field":"di","type":"quantitative","scale":{"domain":[20,100],"nice":false,"zero":false},"axis":{"values":[25,30,35,40,45,50,55,60,65,70,75,80,85,90,95],"labels":false,"title":null}},
    "y":{"field":"v","type":"quantitative","scale":{"domain":[0,100],"nice":false,"zero":false},"axis":{"values":[10,20,30,40,50,60,70,80,90],"format":"d","labelExpr":"datum.value%20===0?datum.label:''","title":null}},
    "shape":{"field":"g","type":"nominal","scale":{"domain":["c","d","s","o","f"],"range":["circle","diamond","square","triangle-up","triangle-up"]},"legend":null},
    "fill":{"field":"g","type":"nominal","scale":{"domain":["c","d","s","o","f"],"range":["#1d1d1d","#1d1d1d","transparent","transparent","#1d1d1d"]},"legend":null},
    "stroke":{"field":"g","type":"nominal","scale":{"domain":["c","d","s","o","f"],"range":["#1d1d1d","#1d1d1d","#555555","#555555","#1d1d1d"]},"legend":null},
    "size":{"field":"g","type":"nominal","scale":{"domain":["c","d","s","o","f"],"range":[105,95,85,65,65]},"legend":null}}},
  {"mark":{"type":"point","opacity":0},
   "encoding":{"x":{"field":"di","type":"quantitative","axis":{"orient":"top","values":[25,30,35,40,45,50,55,60,65,70,75,80,85,90,95],"labels":false,"title":null}},
    "y":{"field":"v","type":"quantitative","axis":{"orient":"right","values":[10,20,30,40,50,60,70,80,90],"labels":false,"title":null}}}}],
 "resolve":{"axis":{"x":"independent","y":"independent"}}},
{"width":293,"height":150,"title":{"text":"Ba","dx":26,"dy":31},"transform":[{"filter":"datum.el==='Ba'"}],
 "layer":[
  {"mark":{"type":"point","filled":true,"opacity":1,"strokeWidth":1},
   "encoding":{"x":{"field":"di","type":"quantitative","scale":{"domain":[20,100],"nice":false,"zero":false},"axis":{"values":[25,30,35,40,45,50,55,60,65,70,75,80,85,90,95],"labels":false,"title":null}},
    "y":{"field":"v","type":"quantitative","scale":{"domain":[0,600],"nice":false,"zero":false},"axis":{"values":[50,100,150,200,250,300,350,400,450,500,550],"format":"d","labelExpr":"datum.value%100===0?datum.label:''","title":null}},
    "shape":{"field":"g","type":"nominal","scale":{"domain":["c","d","s","o","f"],"range":["circle","diamond","square","triangle-up","triangle-up"]},"legend":null},
    "fill":{"field":"g","type":"nominal","scale":{"domain":["c","d","s","o","f"],"range":["#1d1d1d","#1d1d1d","transparent","transparent","#1d1d1d"]},"legend":null},
    "stroke":{"field":"g","type":"nominal","scale":{"domain":["c","d","s","o","f"],"range":["#1d1d1d","#1d1d1d","#555555","#555555","#1d1d1d"]},"legend":null},
    "size":{"field":"g","type":"nominal","scale":{"domain":["c","d","s","o","f"],"range":[105,95,85,65,65]},"legend":null}}},
  {"mark":{"type":"point","opacity":0},
   "encoding":{"x":{"field":"di","type":"quantitative","axis":{"orient":"top","values":[25,30,35,40,45,50,55,60,65,70,75,80,85,90,95],"labels":false,"title":null}},
    "y":{"field":"v","type":"quantitative","axis":{"orient":"right","values":[50,100,150,200,250,300,350,400,450,500,550],"labels":false,"title":null}}}}],
 "resolve":{"axis":{"x":"independent","y":"independent"}}},
{"width":293,"height":152,"title":{"text":"Nd","dx":24,"dy":36},"transform":[{"filter":"datum.el==='Nd'"}],
 "layer":[
  {"mark":{"type":"point","filled":true,"opacity":1,"strokeWidth":1},
   "encoding":{"x":{"field":"di","type":"quantitative","scale":{"domain":[20,100],"nice":false,"zero":false},"axis":{"values":[25,30,35,40,45,50,55,60,65,70,75,80,85,90,95],"labelExpr":"datum.value%10===0?datum.label:''","labelPadding":13,"title":"D.I."}},
    "y":{"field":"v","type":"quantitative","scale":{"domain":[0,71],"nice":false,"zero":false},"axis":{"values":[10,20,30,40,50,60],"format":"d","labelExpr":"datum.value%20===0?datum.label:''","title":null}},
    "shape":{"field":"g","type":"nominal","scale":{"domain":["c","d","s","o","f"],"range":["circle","diamond","square","triangle-up","triangle-up"]},"legend":null},
    "fill":{"field":"g","type":"nominal","scale":{"domain":["c","d","s","o","f"],"range":["#1d1d1d","#1d1d1d","transparent","transparent","#1d1d1d"]},"legend":null},
    "stroke":{"field":"g","type":"nominal","scale":{"domain":["c","d","s","o","f"],"range":["#1d1d1d","#1d1d1d","#555555","#555555","#1d1d1d"]},"legend":null},
    "size":{"field":"g","type":"nominal","scale":{"domain":["c","d","s","o","f"],"range":[105,95,85,65,65]},"legend":null}}},
  {"mark":{"type":"point","opacity":0},
   "encoding":{"x":{"field":"di","type":"quantitative","axis":{"orient":"top","values":[25,30,35,40,45,50,55,60,65,70,75,80,85,90,95],"labels":false,"title":null}},
    "y":{"field":"v","type":"quantitative","axis":{"orient":"right","values":[10,20,30,40,50,60],"labels":false,"title":null}}}}],
 "resolve":{"axis":{"x":"independent","y":"independent"}}},
{"width":293,"height":152,"title":{"text":"Sr","dx":32,"dy":20},"transform":[{"filter":"datum.el==='Sr'"}],
 "layer":[
  {"mark":{"type":"point","filled":true,"opacity":1,"strokeWidth":1},
   "encoding":{"x":{"field":"di","type":"quantitative","scale":{"domain":[20,100],"nice":false,"zero":false},"axis":{"values":[25,30,35,40,45,50,55,60,65,70,75,80,85,90,95],"labelExpr":"datum.value%10===0?datum.label:''","labelPadding":13,"title":"D.I."}},
    "y":{"field":"v","type":"quantitative","scale":{"domain":[0,1100],"nice":false,"zero":false},"axis":{"values":[100,200,300,400,500,600,700,800,900,1000],"format":"d","labelExpr":"datum.value%200===0?datum.label:''","title":null}},
    "shape":{"field":"g","type":"nominal","scale":{"domain":["c","d","s","o","f"],"range":["circle","diamond","square","triangle-up","triangle-up"]},"legend":null},
    "fill":{"field":"g","type":"nominal","scale":{"domain":["c","d","s","o","f"],"range":["#1d1d1d","#1d1d1d","transparent","transparent","#1d1d1d"]},"legend":null},
    "stroke":{"field":"g","type":"nominal","scale":{"domain":["c","d","s","o","f"],"range":["#1d1d1d","#1d1d1d","#555555","#555555","#1d1d1d"]},"legend":null},
    "size":{"field":"g","type":"nominal","scale":{"domain":["c","d","s","o","f"],"range":[105,95,85,65,65]},"legend":null}}},
  {"mark":{"type":"point","opacity":0},
   "encoding":{"x":{"field":"di","type":"quantitative","axis":{"orient":"top","values":[25,30,35,40,45,50,55,60,65,70,75,80,85,90,95],"labels":false,"title":null}},
    "y":{"field":"v","type":"quantitative","axis":{"orient":"right","values":[100,200,300,400,500,600,700,800,900,1000],"labels":false,"title":null}}}}],
 "resolve":{"axis":{"x":"independent","y":"independent"}}}
],
"config":{
 "view":{"stroke":"#2b2b2b","strokeWidth":1},
 "axis":{"tickSize":-4,"tickColor":"#2b2b2b","tickWidth":1,"domain":false,"grid":false,"labelFont":"Liberation Sans","labelFontSize":16,"labelColor":"#2b2b2b","labelOverlap":false,"labelPadding":7,"titleFont":"Liberation Sans","titleFontSize":16,"titleFontWeight":"normal","titleColor":"#2b2b2b","titlePadding":3},
 "title":{"anchor":"start","frame":"group","offset":0,"baseline":"alphabetic","font":"Liberation Sans","fontSize":18,"fontWeight":"normal","color":"#2b2b2b"}
}
}
